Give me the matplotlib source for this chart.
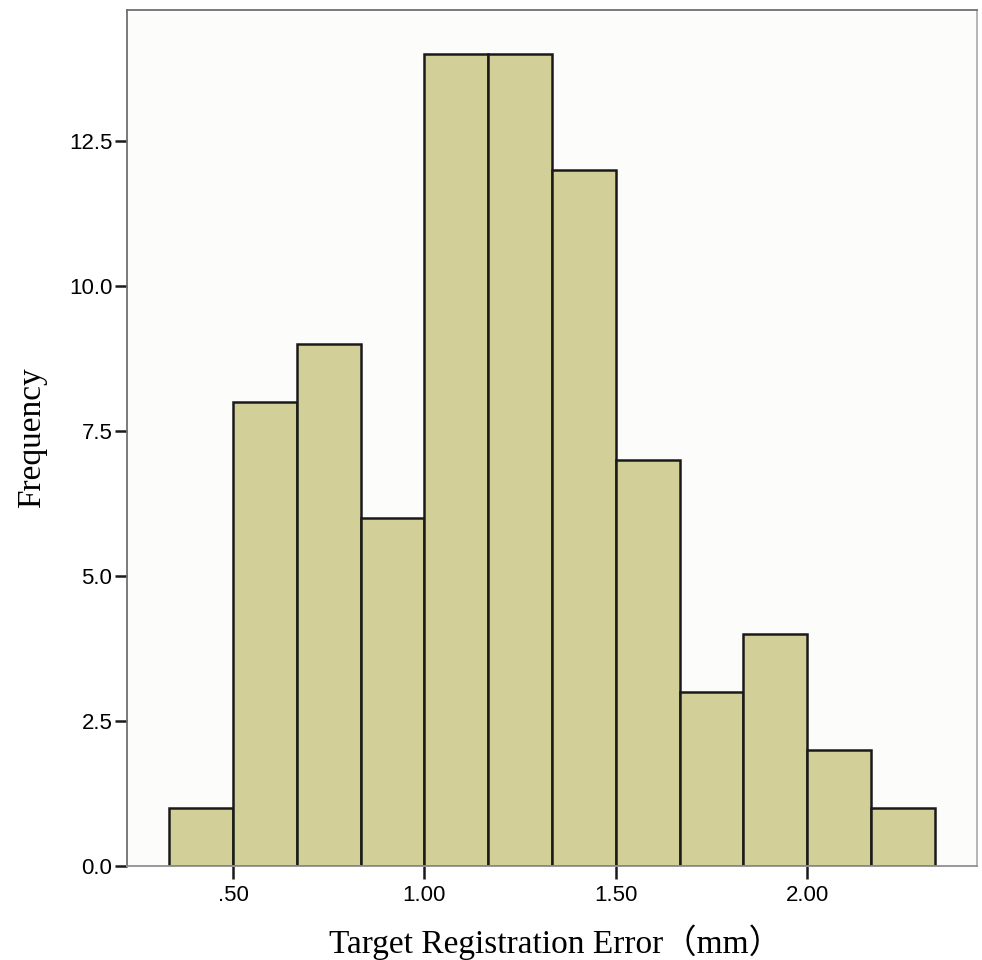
import matplotlib.pyplot as plt

# histogram bins (Target Registration Error, mm) and counts
bin_edges = [1/3 + i / 6 for i in range(13)]
counts = [1, 8, 9, 6, 14, 14, 12, 7, 3, 4, 2, 1]
x_ticks = [0.5, 1.0, 1.5, 2.0]
x_labels = ['.50', '1.00', '1.50', '2.00']
y_ticks = [0.0, 2.5, 5.0, 7.5, 10.0, 12.5]

fig = plt.figure(figsize=(9.82, 9.6), dpi=100)
ax = fig.add_axes([127/982, 1 - 866/960, 850/982, 856/960])
ax.set_facecolor('#fcfcfa')

lefts = bin_edges[:-1]
widths = [bin_edges[i + 1] - bin_edges[i] for i in range(len(counts))]
ax.bar(lefts, counts, width=widths, align='edge', color='#d3cf98',
       edgecolor='#1a1a1a', linewidth=1.8, zorder=2)

ax.set_xlim(0.223, 2.444)
ax.set_ylim(0, 14.76)

ax.set_xticks(x_ticks)
ax.set_xticklabels(x_labels)
ax.set_yticks(y_ticks)
ax.set_yticklabels([f'{v:.1f}' for v in y_ticks])

for s in ax.spines.values():
    s.set_color('#707070')
    s.set_linewidth(1.3)
ax.spines['right'].set_color('#b0b0b0')
ax.spines['bottom'].set_color('#909090')

ax.tick_params(axis='x', length=9, width=1.8, color='#1a1a1a', pad=5,
               labelsize=16, labelfontfamily='Liberation Sans')
ax.tick_params(axis='y', length=9, width=1.8, color='#1a1a1a', pad=1.5,
               labelsize=16, labelfontfamily='Liberation Sans')

ax.set_xlabel('Target Registration Error（mm）', fontsize=24,
              family=['Liberation Serif', 'Noto Sans CJK SC'])
ax.set_ylabel('Frequency', fontsize=24, family='Liberation Serif')
ax.xaxis.set_label_coords(0.504, -0.068)
ax.yaxis.set_label_coords(-0.094, 0.5)

plt.savefig('out.png')
